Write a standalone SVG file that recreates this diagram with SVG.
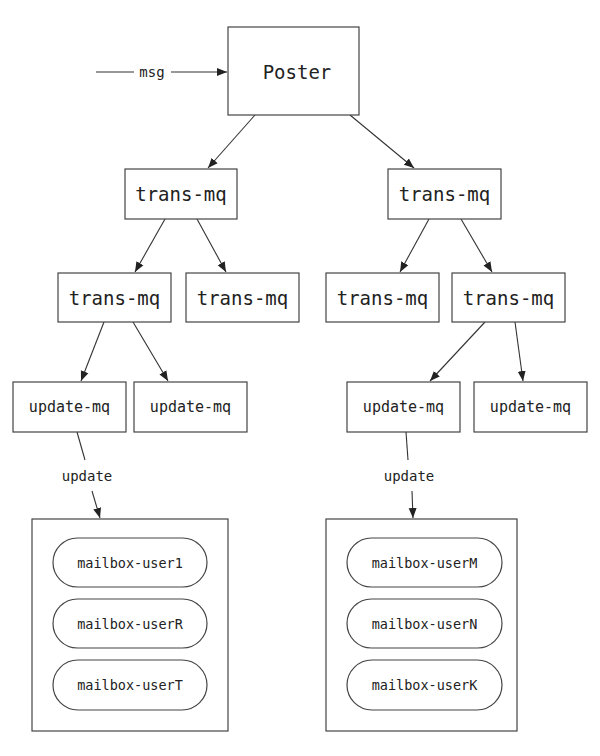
<svg xmlns="http://www.w3.org/2000/svg" width="600" height="756" viewBox="0 0 600 756">
<style>
.box{fill:#fff;stroke:#444;stroke-width:1.2}
.t{font-family:"DejaVu Sans Mono","Liberation Mono",monospace;fill:#222;text-anchor:middle;dominant-baseline:central}
.big{font-size:19px}
.mid{font-size:15px}
.sm{font-size:13.5px}
.lbl{font-size:14px}
.c{stroke:#333;stroke-width:1.1;fill:none}
</style>
<defs>
<marker id="ah" viewBox="0 0 10 10" refX="10" refY="5" markerWidth="10" markerHeight="10" markerUnits="userSpaceOnUse" orient="auto">
<path d="M0,1 L10,5 L0,9 z" fill="#222"/>
</marker>
</defs>
<rect width="600" height="756" fill="#fff"/>
<g id="connectors">
<line class="c" x1="96" y1="72" x2="134" y2="72"/>
<line class="c" x1="171" y1="72" x2="227" y2="72" marker-end="url(#ah)"/>
<text class="t lbl" x="152" y="72">msg</text>
<line class="c" x1="255" y1="115" x2="208" y2="168" marker-end="url(#ah)"/>
<line class="c" x1="350" y1="115" x2="414" y2="168" marker-end="url(#ah)"/>
<line class="c" x1="165" y1="219" x2="135" y2="272" marker-end="url(#ah)"/>
<line class="c" x1="197" y1="219" x2="226" y2="272" marker-end="url(#ah)"/>
<line class="c" x1="429" y1="219" x2="400" y2="272" marker-end="url(#ah)"/>
<line class="c" x1="461" y1="219" x2="492" y2="272" marker-end="url(#ah)"/>
<line class="c" x1="104" y1="322" x2="81" y2="381" marker-end="url(#ah)"/>
<line class="c" x1="133" y1="322" x2="168" y2="381" marker-end="url(#ah)"/>
<line class="c" x1="485" y1="322" x2="430" y2="381" marker-end="url(#ah)"/>
<line class="c" x1="515" y1="322" x2="523" y2="381" marker-end="url(#ah)"/>
<line class="c" x1="77" y1="432" x2="85" y2="460"/>
<line class="c" x1="92" y1="491" x2="100" y2="518" marker-end="url(#ah)"/>
<text class="t lbl" x="87" y="476">update</text>
<line class="c" x1="406" y1="432" x2="408" y2="460"/>
<line class="c" x1="412" y1="491" x2="413" y2="518" marker-end="url(#ah)"/>
<text class="t lbl" x="409" y="476">update</text>
</g>
<g id="poster"><rect class="box" x="228" y="27" width="131" height="88"/><text class="t big" x="297" y="72">Poster</text></g>
<g id="trans-l1"><rect class="box" x="125" y="169" width="112" height="50"/><text class="t big" x="181" y="194">trans-mq</text></g>
<g id="trans-r1"><rect class="box" x="388" y="169" width="113" height="50"/><text class="t big" x="444.5" y="194">trans-mq</text></g>
<g id="trans-l2a"><rect class="box" x="58" y="273" width="113" height="49"/><text class="t big" x="114.5" y="297.5">trans-mq</text></g>
<g id="trans-l2b"><rect class="box" x="186" y="273" width="113" height="49"/><text class="t big" x="242.5" y="297.5">trans-mq</text></g>
<g id="trans-r2a"><rect class="box" x="326" y="273" width="113" height="49"/><text class="t big" x="382.5" y="297.5">trans-mq</text></g>
<g id="trans-r2b"><rect class="box" x="452" y="273" width="113" height="49"/><text class="t big" x="508.5" y="297.5">trans-mq</text></g>
<g id="update-l1"><rect class="box" x="13" y="382" width="113" height="50"/><text class="t mid" x="69.5" y="407">update-mq</text></g>
<g id="update-l2"><rect class="box" x="134" y="382" width="113" height="50"/><text class="t mid" x="190.5" y="407">update-mq</text></g>
<g id="update-r1"><rect class="box" x="347" y="382" width="113" height="50"/><text class="t mid" x="403.5" y="407">update-mq</text></g>
<g id="update-r2"><rect class="box" x="474" y="382" width="113" height="50"/><text class="t mid" x="530.5" y="407">update-mq</text></g>
<g id="mailboxes-left">
<rect class="box" x="32" y="519" width="196" height="212"/>
<rect class="box" x="53" y="538" width="154" height="49" rx="24.5"/><text class="t sm" x="130" y="562.5">mailbox-user1</text>
<rect class="box" x="53" y="599" width="154" height="49" rx="24.5"/><text class="t sm" x="130" y="623.5">mailbox-userR</text>
<rect class="box" x="53" y="660" width="154" height="50" rx="25"/><text class="t sm" x="130" y="685">mailbox-userT</text>
</g>
<g id="mailboxes-right">
<rect class="box" x="326" y="519" width="191" height="212"/>
<rect class="box" x="347" y="538" width="155" height="49" rx="24.5"/><text class="t sm" x="424.5" y="562.5">mailbox-userM</text>
<rect class="box" x="347" y="599" width="155" height="49" rx="24.5"/><text class="t sm" x="424.5" y="623.5">mailbox-userN</text>
<rect class="box" x="347" y="660" width="155" height="50" rx="25"/><text class="t sm" x="424.5" y="685">mailbox-userK</text>
</g>
</svg>
